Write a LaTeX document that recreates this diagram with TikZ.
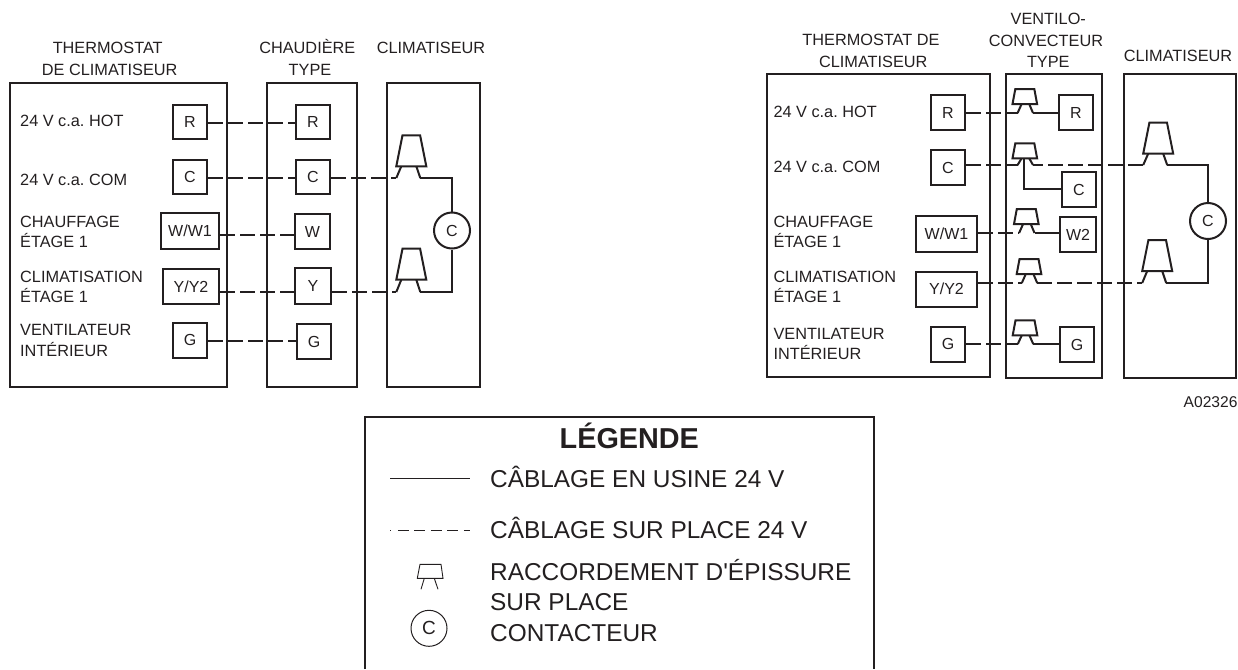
\documentclass[tikz,border=0pt]{standalone}
\usepackage{fontspec}
\setmainfont[Ligatures=TeXOff]{Liberation Sans}
\definecolor{ink}{HTML}{231F20}
\tikzset{
  ln/.style={draw=ink,line width=2pt,line join=miter},
  unitbox/.style={ln},
  term/.style={ln,rectangle,inner sep=0pt,text=ink,font=\fontsize{16}{16}\selectfont},
  contact/.style={ln,circle,inner sep=0pt,minimum size=36pt,text=ink,font=\fontsize{16}{16}\selectfont},
  thin contact/.style={draw=ink,line width=1pt,circle,inner sep=0pt,minimum size=36pt,text=ink,font=\fontsize{19}{19}\selectfont},
  lbl/.style={inner sep=0pt,text=ink,font=\fontsize{16.3}{16.3}\selectfont},
  lleft/.style={lbl,anchor=base west},
  lmid/.style={lbl,anchor=base},
  legtext/.style={inner sep=0pt,text=ink,anchor=base west,font=\fontsize{24.4}{24.4}\selectfont},
  factory/.style={draw=ink,line width=2pt},
  field/.style={draw=ink,line width=2pt,dash pattern=on 14.7pt off 5.3pt},
  field late/.style={field,dash phase=4.7pt},
}
% name, centre x, top y, wire y: large splice
\newcommand{\SpliceBig}[4]{%
  \draw[ln] (#2-8.8,#3) -- (#2+8.8,#3) -- (#2+15,#3+31) -- (#2-15,#3+31) -- cycle;
  \coordinate (#1-l) at (#2-15,#4);
  \coordinate (#1-r) at (#2+9,#4);
  \draw[ln] (#2-10,#3+31) -- (#1-l);
  \draw[ln] (#2+5,#3+31) -- (#1-r);
}
% name, centre x, top y, wire y: small splice
\newcommand{\SpliceSmall}[4]{%
  \draw[ln] (#2-9.5,#3) -- (#2+9.5,#3) -- (#2+12.3,#3+15) -- (#2-12.3,#3+15) -- cycle;
  \coordinate (#1-l) at (#2-7.2,#4);
  \coordinate (#1-r) at (#2+8.2,#4);
  \coordinate (#1-b) at (#2-0.8,#3+15);
  \draw[ln] (#2-3.2,#3+15) -- (#1-l);
  \draw[ln] (#2+4.4,#3+15) -- (#1-r);
}
\begin{document}
\frenchspacing
\begin{tikzpicture}[x=1pt,y=-1pt]
\useasboundingbox (0,0) rectangle (1238,669);

%% ---------- left diagram ----------
\node[lmid] (t1) at (107.7,54) {THERMOSTAT};
\node[lmid] (t2) at (109.7,75) {DE CLIMATISEUR};
\node[lmid] (t3) at (307.3,54) {CHAUDIÈRE};
\node[lmid] (t4) at (310,75) {TYPE};
\node[lmid] (t5) at (431,54) {CLIMATISEUR};

\draw[unitbox] (10,83) rectangle (227,387);
\draw[unitbox] (267,83) rectangle (357,387);
\draw[unitbox] (387,83) rectangle (480,387);

\node[lleft] (a1) at (20,126.7) {24 V c.a. HOT};
\node[lleft] (a2) at (20,185) {24 V c.a. COM};
\node[lleft] (a3) at (20,227.3) {CHAUFFAGE};
\node[lleft] (a4) at (20,247.3) {ÉTAGE 1};
\node[lleft] (a5) at (20,282.3) {CLIMATISATION};
\node[lleft] (a6) at (20,302.3) {ÉTAGE 1};
\node[lleft] (a7) at (20,335.3) {VENTILATEUR};
\node[lleft] (a8) at (20,356) {INTÉRIEUR};

\node[term,minimum width=34pt,minimum height=34pt] (LR) at (190,122) {R};
\node[term,minimum width=34pt,minimum height=34pt] (LC) at (190,177) {C};
\node[term,minimum width=58pt,minimum height=36pt] (LW) at (190,231) {W/W1};
\node[term,minimum width=56pt,minimum height=35pt] (LY) at (191,286.5) {Y/Y2};
\node[term,minimum width=34pt,minimum height=35pt] (LG) at (190,340.5) {\raisebox{2pt}{G}};

\node[term,minimum width=34pt,minimum height=34pt] (MR) at (313,122) {R};
\node[term,minimum width=34pt,minimum height=34pt] (MC) at (313,177) {C};
\node[term,minimum width=35pt,minimum height=35pt] (MW) at (312.5,231.5) {W};
\node[term,minimum width=36pt,minimum height=36pt] (MY) at (313,286) {Y};
\node[term,minimum width=34pt,minimum height=35pt] (MG) at (314,341.5) {G};

\SpliceBig{SA}{411.3}{135.3}{178}
\SpliceBig{SB}{411.3}{248.7}{292}
\node[contact] (KL) at (452,230.5) {C};

\draw[field] (LR.east |- 0,123) -- (MR.west |- 0,123);
\draw[field] (LC.east |- 0,178) -- (MC.west |- 0,178);
\draw[field] (MC.east |- 0,178) -- (SA-l);
\draw[field] (LW.east |- 0,235) -- (MW.west |- 0,235);
\draw[field] (LY.east |- 0,292) -- (MY.west |- 0,292);
\draw[field] (MY.east |- 0,292) -- (SB-l);
\draw[field] (LG.east |- 0,341) -- (MG.west |- 0,341);
\draw[factory] (SA-r) -| (KL.north);
\draw[factory] (SB-r) -| (KL.south);

%% ---------- right diagram ----------
\node[lmid] (u1) at (871,45.7) {THERMOSTAT DE};
\node[lmid] (u2) at (873.3,67.3) {CLIMATISEUR};
\node[lmid] (u3) at (1048.3,25) {VENTILO-};
\node[lmid] (u4) at (1046,46) {CONVECTEUR};
\node[lmid] (u5) at (1048.3,67.3) {TYPE};
\node[lmid] (u6) at (1178,62) {CLIMATISEUR};
\node[lbl,anchor=base east,font=\fontsize{15.6}{15.6}\selectfont] (u7) at (1237.7,407.3) {A02326};

\draw[unitbox] (767,74) rectangle (990,377);
\draw[unitbox] (1006,74) rectangle (1102,378);
\draw[unitbox] (1124,74) rectangle (1236,378);

\node[lleft] (b1) at (773.3,117.7) {24 V c.a. HOT};
\node[lleft] (b2) at (773.3,172.7) {24 V c.a. COM};
\node[lleft] (b3) at (773.3,227.3) {CHAUFFAGE};
\node[lleft] (b4) at (773.3,247.3) {ÉTAGE 1};
\node[lleft] (b5) at (773.3,282.3) {CLIMATISATION};
\node[lleft] (b6) at (773.3,302.3) {ÉTAGE 1};
\node[lleft] (b7) at (773.3,339.3) {VENTILATEUR};
\node[lleft] (b8) at (773.3,359) {INTÉRIEUR};

\node[term,minimum width=34pt,minimum height=35pt] (RR) at (948,112.5) {R};
\node[term,minimum width=34pt,minimum height=35pt] (RC) at (948,167.5) {C};
\node[term,minimum width=61pt,minimum height=36pt] (RW) at (946.5,234) {W/W1};
\node[term,minimum width=61pt,minimum height=35pt] (RY) at (946.5,289.5) {\raisebox{2pt}{Y/Y2}};
\node[term,minimum width=34pt,minimum height=35pt] (RG) at (948,344.5) {\raisebox{1pt}{G}};

\node[term,minimum width=34pt,minimum height=35pt] (NR) at (1076,112.5) {R};
\node[term,minimum width=34pt,minimum height=35pt] (NC) at (1079,189.5) {C};
\node[term,minimum width=36pt,minimum height=35pt] (NW) at (1078,234.5) {W2};
\node[term,minimum width=34pt,minimum height=35pt] (NG) at (1077,344.5) {G};

\SpliceSmall{PR}{1024.8}{89}{113}
\SpliceSmall{PC}{1024.8}{143.3}{165}
\SpliceSmall{PW}{1026.3}{209}{233}
\SpliceSmall{PY}{1029}{259}{283}
\SpliceSmall{PG}{1025}{320.3}{344}
\SpliceBig{SC}{1158.2}{122.7}{165}
\SpliceBig{SD}{1157.2}{240}{283}
\node[contact] (KR) at (1208,221) {C};

\draw[field] (RR.east |- PR-l) -- (PR-l);
\draw[factory] (PR-r) -- (NR.west |- PR-r);
\draw[field] (RC.east |- PC-l) -- (PC-l);
\draw[field late] (PC-r) -- (SC-l);
\draw[factory] (PC-b) |- (NC.west |- 0,189);
\draw[field] (RW.east |- PW-l) -- (PW-l);
\draw[factory] (PW-r) -- (NW.west |- PW-r);
\draw[field] (RY.east |- PY-l) -- (PY-l);
\draw[field] (PY-r) -- (SD-l);
\draw[field] (RG.east |- PG-l) -- (PG-l);
\draw[factory] (PG-r) -- (NG.west |- PG-r);
\draw[factory] (SC-r) -| (KR.north);
\draw[factory] (SD-r) -| (KR.south);

%% ---------- legend ----------
\draw[draw=ink,line width=1.5pt] (365,669) -- (365,417) -- (874,417) -- (874,669);
\node[inner sep=0pt,anchor=base,text=ink,font=\bfseries\fontsize{28.8}{28.8}\selectfont] (lg) at (629.3,448.3) {LÉGENDE};
\coordinate (f1) at (390,478.7);
\coordinate (f2) at (470,478.7);
\draw[draw=ink,line width=0.9pt] (f1) -- (f2);
\coordinate (d1) at (390,530);
\coordinate (d2) at (470,530);
\draw[draw=ink,line width=0.9pt,dash pattern=on 0.9pt off 7pt on 11pt off 5.5pt on 11pt off 5.5pt on 11pt off 5.5pt on 11pt off 5.5pt on 11pt off 5pt] (d1) -- (d2);
\draw[draw=ink,line width=0.9pt] (420,564.3) -- (441,564.3) -- (443,578.3) -- (417.3,578.3) -- cycle;
\draw[draw=ink,line width=0.9pt] (424.3,578.3) -- (421,589.3);
\draw[draw=ink,line width=0.9pt] (434.3,578.3) -- (438,589.3);
\node[thin contact] (k) at (429,628.3) {C};
\node[legtext] (g1) at (490,487.7) {CÂBLAGE EN USINE 24 V};
\node[legtext] (g2) at (490,538.3) {CÂBLAGE SUR PLACE 24 V};
\node[legtext] (g3) at (490,580) {RACCORDEMENT D'ÉPISSURE};
\node[legtext] (g4) at (490,610) {SUR PLACE};
\node[legtext] (g5) at (490,641.7) {CONTACTEUR};
\end{tikzpicture}
\end{document}
